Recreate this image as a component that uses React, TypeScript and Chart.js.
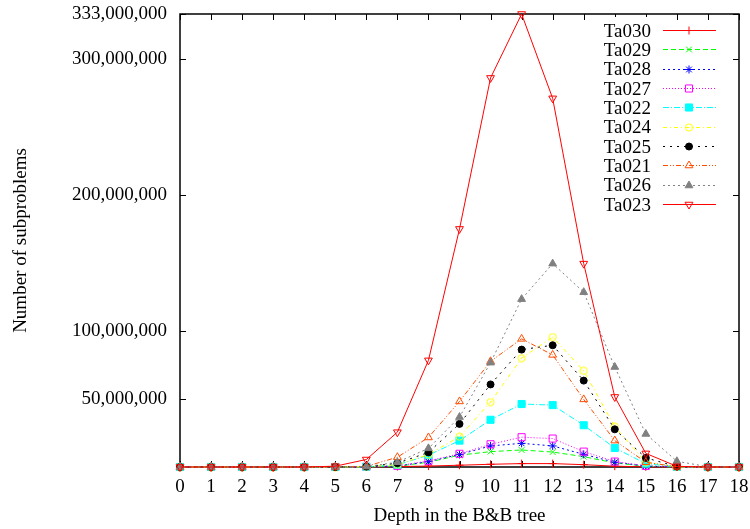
import React, { useEffect, useRef } from 'react';
import { Chart, registerables } from 'chart.js';
import { drawPoint } from 'chart.js/helpers';

Chart.register(...registerables);

// Depth in the B&B tree
const depths = [0, 1, 2, 3, 4, 5, 6, 7, 8, 9, 10, 11, 12, 13, 14, 15, 16, 17, 18];

// Number of subproblems, in millions
const ta030 = [0, 0, 0, 0, 0, 0, 0.05, 0.3, 0.7, 1.3, 2, 2.5, 2.5, 1.7, 0.6, 0.1, 0, 0, 0];
const ta029 = [0, 0, 0, 0, 0, 0, 0.1, 0.6, 3.5, 8.7, 11.3, 12.5, 11, 7.6, 3, 0.6, 0, 0, 0];
const ta028 = [0, 0, 0, 0, 0, 0, 0.1, 0.7, 4, 9.2, 15.5, 17.4, 15.5, 9.3, 3.5, 0.7, 0, 0, 0];
const ta027 = [0, 0, 0, 0, 0, 0, 0.1, 0.8, 4.5, 9.7, 16.7, 21.9, 20.9, 11.3, 4, 0.8, 0.05, 0, 0];
const ta022 = [0, 0, 0, 0, 0, 0, 0.2, 1.6, 8.7, 19.4, 34.7, 46.3, 45.5, 30.7, 14, 2.5, 0.1, 0, 0];
const ta024 = [0, 0, 0, 0, 0, 0, 0.2, 1.6, 9.2, 22.3, 47.7, 80, 95.5, 70.7, 29.7, 3.5, 0.1, 0, 0];
const ta025 = [0, 0, 0, 0, 0, 0, 0.3, 2.8, 10.7, 31.7, 60.7, 86.3, 89.5, 63.5, 27.7, 6.7, 0.3, 0, 0];
const ta021 = [0, 0, 0, 0, 0, 0, 0.5, 7.2, 21.7, 48.2, 77.7, 94.2, 82.4, 49.7, 19.4, 3.5, 0.2, 0, 0];
const ta026 = [0, 0, 0, 0, 0, 0, 0.3, 3.5, 13.7, 36.7, 76.7, 123.4, 149.5, 128.5, 73.5, 24.3, 4.2, 0.2, 0];
const ta023 = [0, 0, 0, 0, 0, 0.6, 5.5, 25.6, 78.4, 175, 286, 333, 271, 149.5, 51.5, 10, 0.5, 0, 0];

const seriesNames = ['Ta030', 'Ta029', 'Ta028', 'Ta027', 'Ta022', 'Ta024', 'Ta025', 'Ta021', 'Ta026', 'Ta023'];
const seriesValues = [ta030, ta029, ta028, ta027, ta022, ta024, ta025, ta021, ta026, ta023];

const xTickValues = depths;
const yTickValues = [0, 50000000, 100000000, 200000000, 300000000, 333000000];
const yTickLabelled = [50000000, 100000000, 200000000, 300000000, 333000000];

const FONT = '"Liberation Serif", "Times New Roman", Times, serif';
const FONT_SIZE = 19;

type Style = {
  color: string;
  dash: number[];
  pointStyle: any;
  fill: boolean;
  radius: number;
  rotation: number;
};

function makeStyles(dotCircle: HTMLCanvasElement): Style[] {
  return [
    { color: '#ff0000', dash: [], pointStyle: 'cross', fill: false, radius: 4, rotation: 0 },
    { color: '#00ff00', dash: [5, 3], pointStyle: 'crossRot', fill: false, radius: 4, rotation: 0 },
    { color: '#0000ff', dash: [2, 3], pointStyle: 'star', fill: false, radius: 4, rotation: 0 },
    { color: '#ff00ff', dash: [1, 2], pointStyle: 'rect', fill: false, radius: 5, rotation: 0 },
    { color: '#00ffff', dash: [6, 2, 1, 2], pointStyle: 'rect', fill: true, radius: 5, rotation: 0 },
    { color: '#ffff00', dash: [4, 3, 1, 3], pointStyle: dotCircle, fill: false, radius: 4, rotation: 0 },
    { color: '#000000', dash: [2, 5], pointStyle: 'circle', fill: true, radius: 3.5, rotation: 0 },
    { color: '#ff4d00', dash: [5, 2, 1, 2, 1, 2], pointStyle: 'triangle', fill: false, radius: 4.5, rotation: 0 },
    { color: '#808080', dash: [2, 3], pointStyle: 'triangle', fill: true, radius: 4.5, rotation: 0 },
    { color: '#ff0000', dash: [], pointStyle: 'triangle', fill: false, radius: 4.5, rotation: 180 },
  ];
}

function fmt(v: number): string {
  return String(Math.round(v)).replace(/\B(?=(\d{3})+(?!\d))/g, ',');
}

export default function App() {
  const ref = useRef<HTMLCanvasElement>(null);

  useEffect(() => {
    document.body.style.margin = '0';
    const canvas = ref.current!;

    // circle with centre dot marker
    const dot = document.createElement('canvas');
    dot.width = 9;
    dot.height = 9;
    const dctx = dot.getContext('2d')!;
    dctx.strokeStyle = '#ffff00';
    dctx.lineWidth = 1;
    dctx.beginPath();
    dctx.arc(4.5, 4.5, 3.6, 0, Math.PI * 2);
    dctx.stroke();
    dctx.fillStyle = '#ffff00';
    dctx.fillRect(4, 4, 1, 1);

    const styles = makeStyles(dot);

    const datasets = seriesNames.map((name, i) => {
      const s = styles[i];
      return {
        label: name,
        data: depths.map((d, j) => ({ x: d, y: seriesValues[i][j] * 1000000 })),
        borderColor: s.color,
        borderWidth: 1,
        borderDash: s.dash,
        pointStyle: s.pointStyle,
        pointRadius: s.radius,
        pointBorderColor: s.color,
        pointBackgroundColor: s.fill ? s.color : 'rgba(0,0,0,0)',
        pointBorderWidth: 1,
        pointRotation: s.rotation,
        tension: 0,
        fill: false,
        clip: false as any,
        order: seriesNames.length - i,
      };
    });

    const framePlugin = {
      id: 'frameTicks',
      beforeDatasetsDraw(chart: any) {
        const { ctx, chartArea } = chart;
        const { left, right, top, bottom } = chartArea;
        const xs = chart.scales.x;
        const ys = chart.scales.y;
        ctx.save();
        ctx.strokeStyle = '#000';
        ctx.lineWidth = 1.5;
        ctx.setLineDash([]);
        ctx.strokeRect(left, top, right - left, bottom - top);
        ctx.lineWidth = 1;
        ctx.beginPath();
        xTickValues.forEach((v) => {
          const px = Math.round(xs.getPixelForValue(v)) + 0.5;
          ctx.moveTo(px, bottom);
          ctx.lineTo(px, bottom - 6);
          ctx.moveTo(px, top);
          ctx.lineTo(px, top + 6);
        });
        yTickValues.forEach((v) => {
          const py = Math.round(ys.getPixelForValue(v)) + 0.5;
          ctx.moveTo(left, py);
          ctx.lineTo(left + 6, py);
          ctx.moveTo(right, py);
          ctx.lineTo(right - 6, py);
        });
        ctx.stroke();
        ctx.restore();
      },
    };

    const legendPlugin = {
      id: 'gnuLegend',
      afterDatasetsDraw(chart: any) {
        const { ctx } = chart;
        ctx.save();
        ctx.fillStyle = '#fff';
        ctx.fillRect(598, 17, 56, 198);
        seriesNames.forEach((name, i) => {
          const s = styles[i];
          const y = 30 + i * 19.33;
          ctx.fillStyle = '#000';
          ctx.font = `${FONT_SIZE}px ${FONT}`;
          ctx.textAlign = 'right';
          ctx.textBaseline = 'alphabetic';
          ctx.fillText(name, 651, y + 6.8);
          ctx.strokeStyle = s.color;
          ctx.lineWidth = 1;
          ctx.setLineDash(s.dash);
          ctx.beginPath();
          ctx.moveTo(663, Math.round(y) + 0.5);
          ctx.lineTo(716, Math.round(y) + 0.5);
          ctx.stroke();
          ctx.setLineDash([]);
          ctx.fillStyle = s.fill ? s.color : 'rgba(0,0,0,0)';
          ctx.strokeStyle = s.color;
          ctx.lineWidth = 1;
          drawPoint(ctx, { pointStyle: s.pointStyle, rotation: s.rotation, radius: s.radius, borderWidth: 1 } as any, 689, Math.round(y) + 0.5);
        });
        ctx.restore();
      },
    };

    const chart = new Chart(canvas, {
      type: 'line',
      data: { datasets: datasets as any },
      options: {
        animation: false,
        responsive: false,
        events: [],
        layout: { padding: { left: 0, top: 14, right: 11, bottom: 0 } },
        plugins: {
          legend: { display: false },
          tooltip: { enabled: false },
        },
        scales: {
          x: {
            type: 'linear',
            min: 0,
            max: 18,
            afterBuildTicks: (s: any) => {
              s.ticks = xTickValues.map((v) => ({ value: v }));
            },
            afterFit: (s: any) => {
              s.height = 62;
              s.paddingLeft = 0;
              s.paddingRight = 0;
            },
            grid: { display: false, drawTicks: false },
            border: { display: false },
            ticks: {
              autoSkip: false,
              maxRotation: 0,
              padding: 9,
              color: '#000',
              font: { family: FONT, size: FONT_SIZE },
              callback: (v: any) => String(v),
            },
            title: {
              display: true,
              text: 'Depth in the B&B tree',
              color: '#000',
              font: { family: FONT, size: FONT_SIZE },
              padding: { top: 0, bottom: 1.5 },
            },
          },
          y: {
            type: 'linear',
            min: 0,
            max: 333000000,
            afterBuildTicks: (s: any) => {
              s.ticks = yTickLabelled.map((v) => ({ value: v }));
            },
            afterFit: (s: any) => {
              s.width = 180;
              s.paddingTop = 0;
              s.paddingBottom = 0;
            },
            grid: { display: false, drawTicks: false },
            border: { display: false },
            ticks: {
              autoSkip: false,
              padding: 13,
              color: '#000',
              font: { family: FONT, size: FONT_SIZE },
              callback: (v: any) => fmt(Number(v)),
            },
            title: {
              display: true,
              text: 'Number of subproblems',
              color: '#000',
              font: { family: FONT, size: FONT_SIZE },
              padding: { top: 10, bottom: 0 },
            },
          },
        },
      },
      plugins: [framePlugin, legendPlugin],
    });

    return () => chart.destroy();
  }, []);

  return (
    <div style={{ width: 750, height: 529 }}>
      <canvas ref={ref} width={750} height={529} style={{ display: 'block' }} />
    </div>
  );
}
